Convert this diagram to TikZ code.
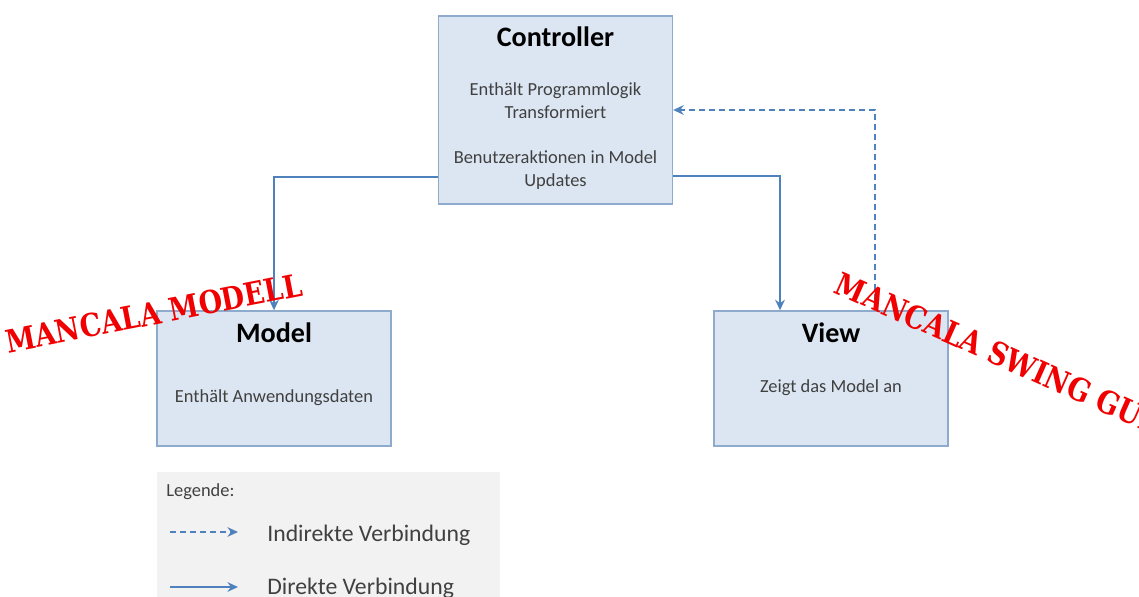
\documentclass[tikz,border=0pt]{standalone}
\usepackage{fontspec}
\setmainfont{Carlito}
\newfontfamily\stampfont{DejaVu Serif}
\usetikzlibrary{arrows.meta, positioning}
\definecolor{boxfill}{HTML}{DCE6F2}
\definecolor{boxline}{HTML}{8EAACC}
\definecolor{linkblue}{HTML}{4F81BD}
\definecolor{legendgray}{HTML}{F2F2F2}
\definecolor{bodygray}{HTML}{404040}
\definecolor{stampred}{HTML}{F00000}
\tikzset{
  mvcbox/.style={draw=boxline, fill=boxfill, line width=0.8pt, minimum width=4.68cm, minimum height=2.7cm, inner sep=0pt},
  boxtitle/.style={anchor=base, font=\fontsize{16}{19}\selectfont\bfseries},
  boxbody/.style={align=center, text=bodygray, font=\fontsize{10.5}{13}\selectfont},
  direct/.style={linkblue, line width=1.1pt, -{Stealth[length=6pt, width=5.5pt]}},
  indirect/.style={direct, dash pattern=on 3.4pt off 2.3pt},
  legendtext/.style={anchor=base west, inner sep=0pt, text=bodygray, font=\fontsize{13.5}{16}\selectfont},
  stamp/.style={rotate=#1, xscale=0.85, transform shape, text=stampred, font=\stampfont\fontsize{18}{21}\selectfont\bfseries}
}
\begin{document}
\begin{tikzpicture}[x=0.02cm, y=-0.02cm]
  \useasboundingbox (0,0) rectangle (1139,597);

  % Legend
  \node[fill=legendgray, minimum width=6.86cm, minimum height=2.8cm, anchor=north west, inner sep=0pt] (legend) at (157,472) {};
  \node[anchor=base west, inner sep=0pt, text=bodygray, font=\fontsize{10.5}{13}\selectfont] (legendtitle) at (166,497) {Legende:};
  \coordinate (indA) at (170,532);
  \coordinate (indB) at (238,532);
  \draw[indirect] (indA) -- (indB);
  \node[legendtext] (indtext) at (267,541) {Indirekte Verbindung};
  \coordinate (dirA) at (170,587);
  \coordinate (dirB) at (238,587);
  \draw[direct] (dirA) -- (dirB);
  \node[legendtext] (dirtext) at (267,594) {Direkte Verbindung};

  % Controller
  \node[mvcbox, minimum height=3.76cm] (ctrl) at (555.5,110) {};
  \node[boxtitle] (ctrltitle) at (555.5,47) {Controller};
  \node[boxbody] (ctrltext) at (555.5,136) {Enthält Programmlogik\\Transformiert\\[13pt]Benutzeraktionen in Model\\Updates};

  % Model
  \node[mvcbox] (model) at (274,378.5) {};
  \node[boxtitle] (modeltitle) at (274,343) {Model};
  \node[boxbody, anchor=base] (modeltext) at (274,403) {Enthält Anwendungsdaten};

  % View
  \node[mvcbox] (view) at (831,378.5) {};
  \node[boxtitle] (viewtitle) at (831,343) {View};
  \node[boxbody, anchor=base] (viewtext) at (831,393) {Zeigt das Model an};

  % Connections
  \draw[direct] (ctrl.west |- 0,177) -| (model.north);
  \draw[direct] (ctrl.east |- 0,176) -| (view.north -| 780,0);
  \draw[indirect] (view.north -| 875,0) |- (ctrl.east);

  % Stamps
  \node[stamp=11] (stampmodel) at (154,313) {MANCALA MODELL};
  \node[stamp=-24] (stampgui) at (995,352) {MANCALA SWING GUI};
\end{tikzpicture}
\end{document}
